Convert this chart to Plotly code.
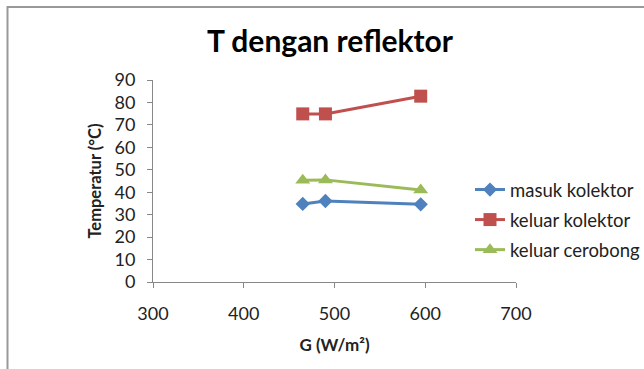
import plotly.graph_objects as go

g_values = [465, 490, 595]
masuk_kolektor = [34.8, 36.1, 34.6]
keluar_kolektor = [74.9, 74.9, 82.8]
keluar_cerobong = [45.3, 45.5, 41.0]

series_names = ["masuk kolektor", "keluar kolektor", "keluar cerobong"]
x_ticks = [300, 400, 500, 600, 700]
y_ticks = [0, 10, 20, 30, 40, 50, 60, 70, 80, 90]

FONT = "Lato"
colors = ["#4F81BD", "#C0504D", "#9BBB59"]
symbols = ["diamond", "square", "triangle-up"]
sizes = [11, 13, 13]

fig = go.Figure()
for i, (name, vals) in enumerate(zip(series_names, [masuk_kolektor, keluar_kolektor, keluar_cerobong])):
    fig.add_trace(go.Scatter(
        x=g_values, y=vals, name=name, mode="lines+markers",
        line=dict(color=colors[i], width=3),
        marker=dict(symbol=symbols[i], size=sizes[i], color=colors[i]),
        legendgroup=name, cliponaxis=False,
    ))

L, R, T, B = 153, 516, 80, 282
W, H = 644, 369
pw, ph = R - L, B - T

def px2x(p):
    return (p - L) / pw

def py2y(p):
    return (B - p) / ph

fig.update_layout(
    width=W, height=H,
    margin=dict(l=L, r=W - R, t=T, b=H - B, pad=0, autoexpand=False),
    paper_bgcolor="white", plot_bgcolor="white",
    font=dict(family=FONT, size=18, color="#222"),
    title=dict(text="<b>T dengan reflektor</b>", x=330 / W, xanchor="center",
               y=1 - 41 / H, yanchor="middle",
               font=dict(family=FONT, size=30, color="black")),
    showlegend=True,
    legend=dict(x=px2x(470), y=py2y(171), xanchor="left", yanchor="top",
                font=dict(family=FONT, size=18.5, color="#222"),
                tracegroupgap=3, traceorder="grouped",
                bgcolor="rgba(0,0,0,0)", borderwidth=0),
    xaxis=dict(range=[300, 700], tickvals=x_ticks, showgrid=False, zeroline=False,
               showline=True, linecolor="#888", linewidth=1,
               ticks="outside", ticklen=5, tickcolor="#888", ticklabelstandoff=10,
               tickfont=dict(family=FONT, size=18, color="#222"),
               title=dict(text="<b>G (W/m²)</b>", standoff=16,
                          font=dict(family=FONT, size=17, color="#222"))),
    yaxis=dict(range=[0, 90], tickvals=y_ticks, showgrid=False, zeroline=False,
               showline=True, linecolor="#888", linewidth=1,
               ticks="outside", ticklen=5, tickcolor="#888", ticklabelstandoff=8,
               tickfont=dict(family=FONT, size=18, color="#222"),
               title=dict(text="<b>Temperatur (°C)</b>", standoff=8,
                          font=dict(family=FONT, size=16.5, color="#222"))),
)

fig.add_shape(type="rect", xref="paper", yref="paper",
              x0=px2x(7.5), y0=py2y(H + 20), x1=px2x(W + 20), y1=py2y(7),
              line=dict(color="#999", width=2), fillcolor="rgba(0,0,0,0)", layer="below")

fig.write_html("out.html")
